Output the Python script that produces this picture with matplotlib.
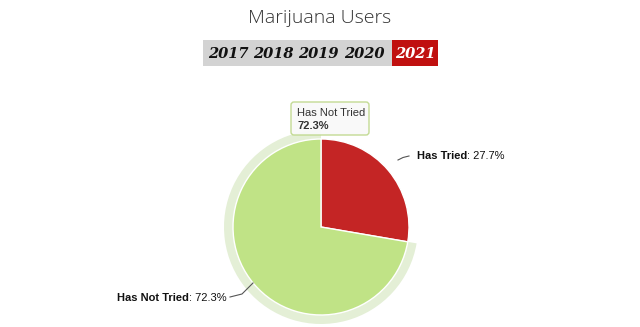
import matplotlib
matplotlib.use('Agg')
import matplotlib.pyplot as plt
from matplotlib.patches import Rectangle, FancyBboxPatch

title = 'Marijuana Users'
years = ['2017', '2018', '2019', '2020', '2021']
active_year = '2021'
labels = ['Has Tried', 'Has Not Tried']
values = [27.7, 72.3]
colors = ['#c42525', '#c0e386']

W, H = 640, 327
fig = plt.figure(figsize=(6.4, 3.27), dpi=100)
ax = fig.add_axes([0, 0, 1, 1])
ax.axis('off')

def Y(y):
    return H - y

# title
ax.text(320, Y(18), title, ha='center', va='center', fontsize=14,
        family='Open Sans', weight='light', color='#333333')

# year buttons
ax.add_patch(Rectangle((203, Y(66)), 189, 26, color='#d3d3d3', lw=0))
ax.add_patch(Rectangle((392, Y(66)), 46, 26, color='#c0100f', lw=0))
year_x = [228, 273, 318, 364, 415]
for yr, xx in zip(years, year_x):
    ax.text(xx, Y(54), yr, ha='center', va='center', fontsize=10.5,
            family='DejaVu Serif', style='italic', weight='bold',
            color='white' if yr == active_year else '#111111')

# pie
cx, cy, r = 321, Y(227), 88
# hover halo around the green slice
ax.pie(values, radius=97, center=(cx, cy), startangle=90,
       counterclock=False, colors=['none', '#e4efd6'],
       wedgeprops=dict(lw=0))
ax.pie(values, radius=r, center=(cx, cy), startangle=90,
       counterclock=False, colors=colors,
       wedgeprops=dict(lw=1, edgecolor='white'))
ax.set_xlim(0, W)
ax.set_ylim(0, H)
ax.set_aspect('equal')

# data labels with connectors
def data_label(x, y, name, val):
    t = ax.text(x, y, name, fontsize=8, weight='bold', family='Liberation Sans',
                ha='left', va='center', color='#111111')
    ax.annotate(': %.1f%%' % val, xy=(1, 0.5), xycoords=t, va='center',
                fontsize=8, family='Liberation Sans', color='#111111')

data_label(417, Y(156), labels[0], values[0])
ax.plot([398, 403, 409], [Y(160), Y(157.5), Y(156)], color='#555555', lw=0.8)
data_label(117, Y(298), labels[1], values[1])
ax.plot([230, 242, 253], [Y(297), Y(294), Y(283)], color='#555555', lw=0.8)

# tooltip
ax.add_patch(FancyBboxPatch((291, Y(135)), 78, 33,
                            boxstyle='round,pad=0,rounding_size=3',
                            fc='#f9f9f9', ec='#c0d98f', lw=1, alpha=0.95))
ax.text(297, Y(113), labels[1], fontsize=8, family='Liberation Sans',
        color='#333333', va='center')
ax.text(297, Y(126), '%.1f%%' % values[1], fontsize=8, weight='bold',
        family='Liberation Sans', color='#333333', va='center')

fig.savefig('out.png', dpi=100)
